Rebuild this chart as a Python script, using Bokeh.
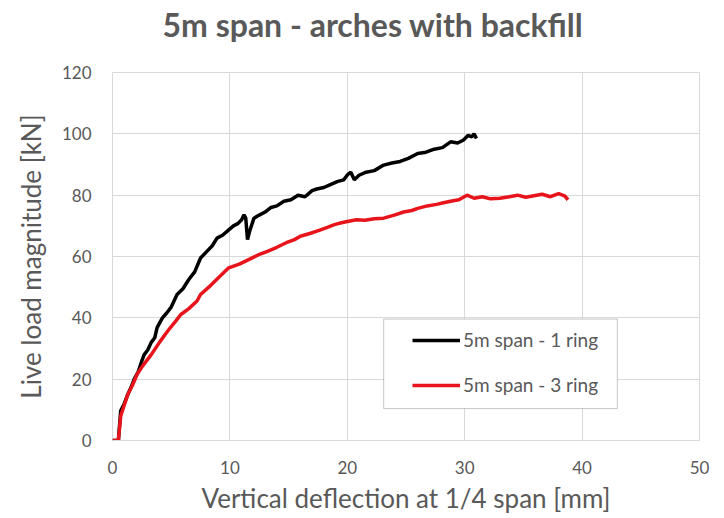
from bokeh.plotting import figure
from bokeh.models import Range1d, Legend, LegendItem, BoxAnnotation, FixedTicker, Title
from bokeh.embed import file_html
from bokeh.resources import INLINE

# ---- data ----
ring1_x = [0, 0.5, 0.7, 1.0, 1.3, 1.6, 1.85, 2.2, 2.5, 2.7, 3.0, 3.3, 3.6, 3.8, 4.25, 4.6, 5.0,
           5.5, 6.0, 6.5, 7.0, 7.5, 8.0, 8.5, 8.9, 9.4, 9.9, 10.3, 10.7, 11.0, 11.2, 11.35, 11.5,
           11.7, 12.05, 12.5, 13.0, 13.5, 14.0, 14.6, 15.2, 15.8, 16.4, 17.0, 17.4, 18.0, 18.6,
           19.2, 19.7, 20.0, 20.3, 20.6, 21.0, 21.6, 22.3, 23.1, 23.8, 24.5, 25.2, 26.0, 26.7,
           27.4, 28.1, 28.8, 29.4, 29.9, 30.3, 30.6, 30.8, 31.0]
ring1_y = [0, 0, 9.7, 12, 15, 17.5, 20, 22.5, 26, 28, 29.5, 32, 33.5, 36.8, 40, 41.5, 43.5,
           47.6, 49.5, 52.5, 55, 59.5, 61.5, 63.5, 66, 67, 68.7, 70, 70.8, 72, 73.6, 72.5, 65.5,
           68.5, 72.5, 73.5, 74.5, 76, 76.5, 78, 78.5, 80, 79.5, 81.5, 82, 82.5, 83.5,
           84.5, 85, 86.6, 87.5, 85, 86.5, 87.5, 88, 89.8, 90.5, 91, 92, 93.6, 94,
           95, 95.5, 97.4, 97, 98, 99.5, 99, 100, 98.5]

ring3_x = [0, 0.5, 0.7, 1.0, 1.3, 1.7, 2.1, 2.6, 3.3, 4.0, 4.7, 5.4, 5.8, 6.5, 7.2, 7.5, 8.2,
           9.0, 9.9, 10.8, 11.6, 12.4, 13.2, 14.0, 14.8, 15.5, 16.0, 16.8, 17.6, 18.3, 18.9,
           19.5, 20.0, 20.8, 21.5, 22.3, 23.1, 24.0, 24.8, 25.5, 26.0, 26.8, 27.6, 28.2, 28.8,
           29.5, 30.2, 30.8, 31.5, 32.2, 33.0, 33.8, 34.5, 35.2, 35.9, 36.6, 37.3, 38.0, 38.5, 38.8]
ring3_y = [0, 0, 8, 11.5, 15, 18, 21.6, 24.5, 28, 32, 35.7, 39, 41, 43, 45.5, 47.6, 50,
           53, 56.3, 57.5, 59, 60.5, 61.7, 63, 64.5, 65.5, 66.6, 67.5, 68.5, 69.5, 70.4,
           71, 71.4, 72, 71.8, 72.3, 72.5, 73.5, 74.5, 75, 75.7, 76.5, 77, 77.5, 78,
           78.5, 80, 79, 79.5, 78.8, 79, 79.5, 80, 79.3, 79.8, 80.3, 79.5, 80.5, 79.8, 78.5]

x_ticks = [0, 10, 20, 30, 40, 50]
y_ticks = [0, 20, 40, 60, 80, 100, 120]
series_names = ["5m span - 1 ring", "5m span - 3 ring"]
title_text = "5m span - arches with backfill"
x_label = "Vertical deflection at 1/4 span [mm]"
y_label = "Live load magnitude [kN]"

TEXT = "#595959"
GRID = "#d9d9d9"
FONT = "Lato"

p = figure(width=716, height=516, output_backend="svg", toolbar_location=None,
           x_range=Range1d(0, 50), y_range=Range1d(0, 120),
           min_border_left=112, min_border_right=17, min_border_top=72, min_border_bottom=76)

p.outline_line_color = GRID
p.background_fill_color = "white"
p.border_fill_color = "white"

# spacer between the title and the plot frame
p.add_layout(Title(text=" ", text_font_size="10px", standoff=10), "above")

p.title.text = title_text
p.title.align = "left"
p.title.vertical_align = "top"
p.title.offset = 50
p.title.standoff = 8
p.title.text_font = FONT
p.title.text_font_size = "32px"
p.title.text_font_style = "bold"
p.title.text_color = TEXT

p.xgrid.ticker = FixedTicker(ticks=x_ticks)
p.ygrid.ticker = FixedTicker(ticks=y_ticks)
p.xgrid.grid_line_color = GRID
p.ygrid.grid_line_color = GRID

p.xaxis.ticker = FixedTicker(ticks=x_ticks)
p.yaxis.ticker = FixedTicker(ticks=y_ticks)
for ax in (p.xaxis[0], p.yaxis[0]):
    ax.major_tick_line_color = None
    ax.minor_tick_line_color = None
    ax.major_label_text_color = TEXT
    ax.major_label_text_font = FONT
    ax.major_label_text_font_size = "17px"
    ax.axis_label_text_color = TEXT
    ax.axis_label_text_font = FONT
    ax.axis_label_text_font_size = "26px"
    ax.axis_label_text_font_style = "normal"
p.xaxis.axis_line_color = GRID
p.yaxis.axis_line_color = None
p.xaxis.axis_label = x_label
p.yaxis.axis_label = y_label
p.xaxis.major_label_standoff = 14
p.yaxis.major_label_standoff = 15
p.xaxis.axis_label_standoff = 5
p.yaxis.axis_label_standoff = 12

r1 = p.line(ring1_x, ring1_y, line_color="black", line_width=3.5)
r3 = p.line(ring3_x, ring3_y, line_color="#e8141b", line_width=3.5)

box = BoxAnnotation(left=23.1, right=43.0, bottom=10.4, top=39.6,
                    fill_color="white", fill_alpha=1.0, line_color="#404040", line_width=1)
p.add_layout(box)

legend = Legend(items=[LegendItem(label=series_names[0], renderers=[r1]),
                       LegendItem(label=series_names[1], renderers=[r3])],
                location=(300, 44), padding=0, margin=0, spacing=22,
                glyph_width=48, glyph_height=20, label_standoff=3,
                label_text_font=FONT, label_text_font_size="19px", label_text_color=TEXT,
                border_line_alpha=0, background_fill_alpha=0)
p.add_layout(legend)

open("out.html", "w").write(file_html(p, INLINE))
